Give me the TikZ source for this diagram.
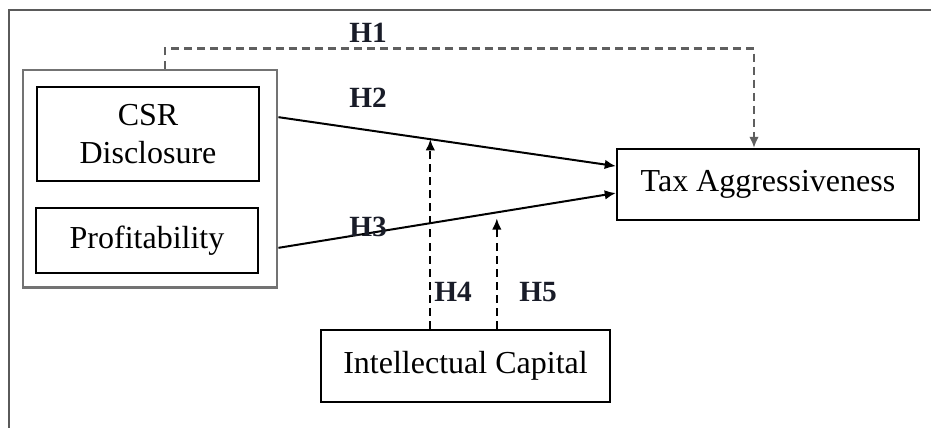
\documentclass[tikz,border=0pt]{standalone}
\usepackage{fontspec}
\setmainfont{Liberation Serif}
\usetikzlibrary{arrows.meta,calc,positioning}
\definecolor{FrameGray}{RGB}{90,90,90}
\definecolor{GroupGray}{RGB}{115,115,115}
\definecolor{DashGray}{RGB}{95,95,95}
\definecolor{LabelInk}{RGB}{25,28,40}

\tikzset{
  varbox/.style={draw,line width=0.8pt,inner sep=0pt,align=center,font=\fontsize{12}{14}\selectfont},
  hyplabel/.style={inner sep=0pt,text=LabelInk,font=\fontsize{11}{13}\selectfont\bfseries},
  arr/.style={line width=0.75pt,-{Latex[length=4.2pt,width=3.6pt]}},
  dasharr/.style={line width=0.8pt,dash pattern=on 3pt off 1.9pt,-{Latex[length=4.2pt,width=3.6pt]}}
}

\begin{document}
\begin{tikzpicture}[x=0.375pt,y=-0.375pt]
      \useasboundingbox (0,0) rectangle (931,428);
      % cropped outer frame
      \draw[FrameGray,line width=0.65pt] (9,428)--(9,10)--(931,10);
      % variables
      \node[draw=GroupGray,line width=1.1pt,minimum width=95.25pt,minimum height=81.4pt] (grp) at (150,178.5) {};
      \node[varbox,minimum width=83.25pt,minimum height=35.25pt] (csr) at (148,134) {CSR\\Disclosure};
      \node[varbox,minimum width=83.25pt,minimum height=24.4pt] (prof) at (147,240.5) {Profitability};
      \node[varbox,minimum width=113.25pt,minimum height=26.6pt] (tax) at (768,184.5) {Tax Aggressiveness};
      \node[varbox,minimum width=108.4pt,minimum height=27pt] (ic) at (465.5,366) {Intellectual Capital};
      % direct paths
      \draw[dasharr,DashGray] ([xshift=5.6pt]grp.north) -- ++(0,-20) -| ([xshift=-5.25pt]tax.north);
      \draw[arr] ([yshift=23pt]grp.east) -- coordinate[pos=0.45] (m4) ([yshift=6.9pt]tax.west);
      \draw[arr] ([yshift=-26pt]grp.east) -- coordinate[pos=0.647] (m5) ([yshift=-3.2pt]tax.west);
      % moderation
      \draw[dasharr] (ic.north -| m4) -- (m4);
      \draw[dasharr] (ic.north -| m5) -- ([yshift=-2.25pt]m5);
      % labels
      \node[hyplabel] (h1) at (368,33) {H1};
      \node[hyplabel] (h2) at (368,98) {H2};
      \node[hyplabel] (h3) at (368,227) {H3};
      \node[hyplabel] (h4) at (453,292) {H4};
      \node[hyplabel] (h5) at (538,292) {H5};
    \end{tikzpicture}
\end{document}
